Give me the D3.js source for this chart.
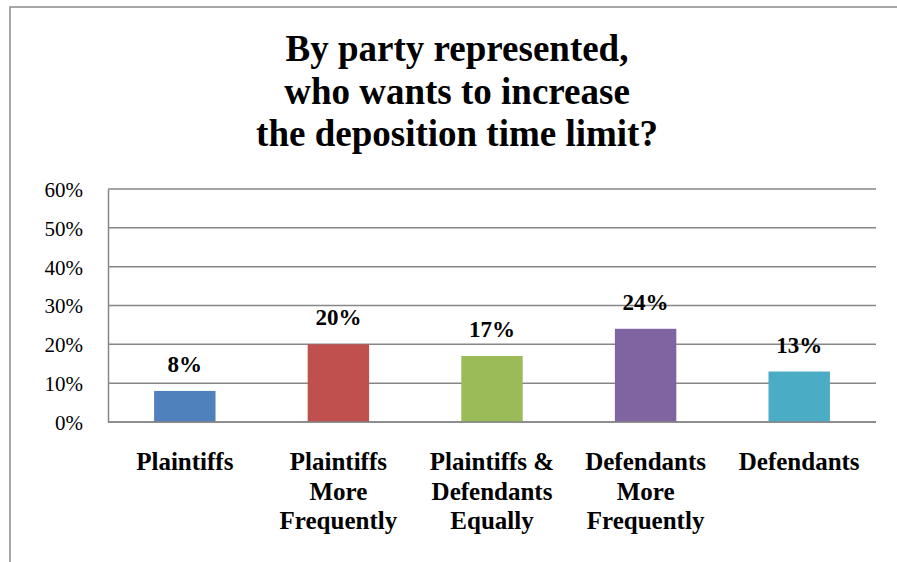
<!DOCTYPE html>
<html>
<head>
<meta charset="utf-8">
<script src="https://cdn.jsdelivr.net/npm/d3@7"></script>
<style>
  html, body { margin: 0; padding: 0; background: #fff; }
  svg { display: block; }
</style>
</head>
<body>
<svg id="chart" width="897" height="562"></svg>
<script>
// Share of respondents wanting a longer deposition time limit, by party represented
const categories = [
  ["Plaintiffs"],
  ["Plaintiffs", "More", "Frequently"],
  ["Plaintiffs &", "Defendants", "Equally"],
  ["Defendants", "More", "Frequently"],
  ["Defendants"]
];
const values = [8, 20, 17, 24, 13];
const colors = ["#4F81BD", "#C0504D", "#9BBB59", "#8064A2", "#4BACC6"];
const yTicks = [0, 10, 20, 30, 40, 50, 60];
const titleLines = ["By party represented,", "who wants to increase", "the deposition time limit?"];

const FONT = '"Liberation Serif"';
const svg = d3.select("#chart");
const plot = { left: 108, right: 876, top: 189, bottom: 422 };

// Outer chart frame (extends past the right and bottom edges)
svg.append("rect")
  .attr("x", 10).attr("y", 7)
  .attr("width", 920).attr("height", 600)
  .attr("fill", "none").attr("stroke", "#8a8a8a").attr("stroke-width", 1.5);

// Title
svg.append("g").selectAll("text").data(titleLines).join("text")
  .attr("x", 457).attr("y", (d, i) => 61 + i * 42.5)
  .attr("text-anchor", "middle")
  .style("font-family", FONT)
  .attr("font-size", 37).attr("font-weight", "bold")
  .text(d => d);

const x = d3.scaleBand()
  .domain(d3.range(categories.length))
  .range([plot.left, plot.right])
  .paddingInner(0.6).paddingOuter(0.3);

const y = d3.scaleLinear().domain([0, 60]).range([plot.bottom, plot.top]);

// Gridlines
svg.append("g").selectAll("line").data(yTicks).join("line")
  .attr("x1", plot.left).attr("x2", plot.right)
  .attr("y1", d => y(d)).attr("y2", d => y(d))
  .attr("stroke", "#868686").attr("stroke-width", 1.5);

// Y axis
const yAxis = svg.append("g")
  .attr("transform", `translate(${plot.left},0)`)
  .call(d3.axisLeft(y).tickValues(yTicks).tickSize(0).tickPadding(25).tickFormat(d => d + "%"));
yAxis.attr("font-family", null);
yAxis.select(".domain").attr("stroke", "#868686").attr("stroke-width", 1.5);
yAxis.selectAll("text")
  .attr("font-size", 21).attr("fill", "#000")
  .style("font-family", FONT)
  .attr("dy", "0.35em");

// Bars
svg.append("g").selectAll("rect").data(values).join("rect")
  .attr("x", (d, i) => x(i))
  .attr("width", x.bandwidth())
  .attr("y", d => y(d))
  .attr("height", d => y(0) - y(d))
  .attr("fill", (d, i) => colors[i]);

// Value labels
svg.append("g").selectAll("text").data(values).join("text")
  .attr("x", (d, i) => x(i) + x.bandwidth() / 2)
  .attr("y", d => y(d) - 19)
  .attr("text-anchor", "middle")
  .style("font-family", FONT)
  .attr("font-size", 23).attr("font-weight", "bold")
  .text(d => d + "%");

// Category labels
const cat = svg.append("g").selectAll("text").data(categories).join("text")
  .attr("text-anchor", "middle")
  .style("font-family", FONT)
  .attr("font-size", 25).attr("font-weight", "bold");
cat.selectAll("tspan").data((d, i) => d.map(line => ({ line, i }))).join("tspan")
  .attr("x", d => x(d.i) + x.bandwidth() / 2)
  .attr("y", (d, j) => 470 + j * 29.5)
  .text(d => d.line);

// Axis baseline on top of the bars
svg.append("line")
  .attr("x1", plot.left).attr("x2", plot.right)
  .attr("y1", y(0)).attr("y2", y(0))
  .attr("stroke", "#868686").attr("stroke-width", 1.5);
</script>
</body>
</html>
